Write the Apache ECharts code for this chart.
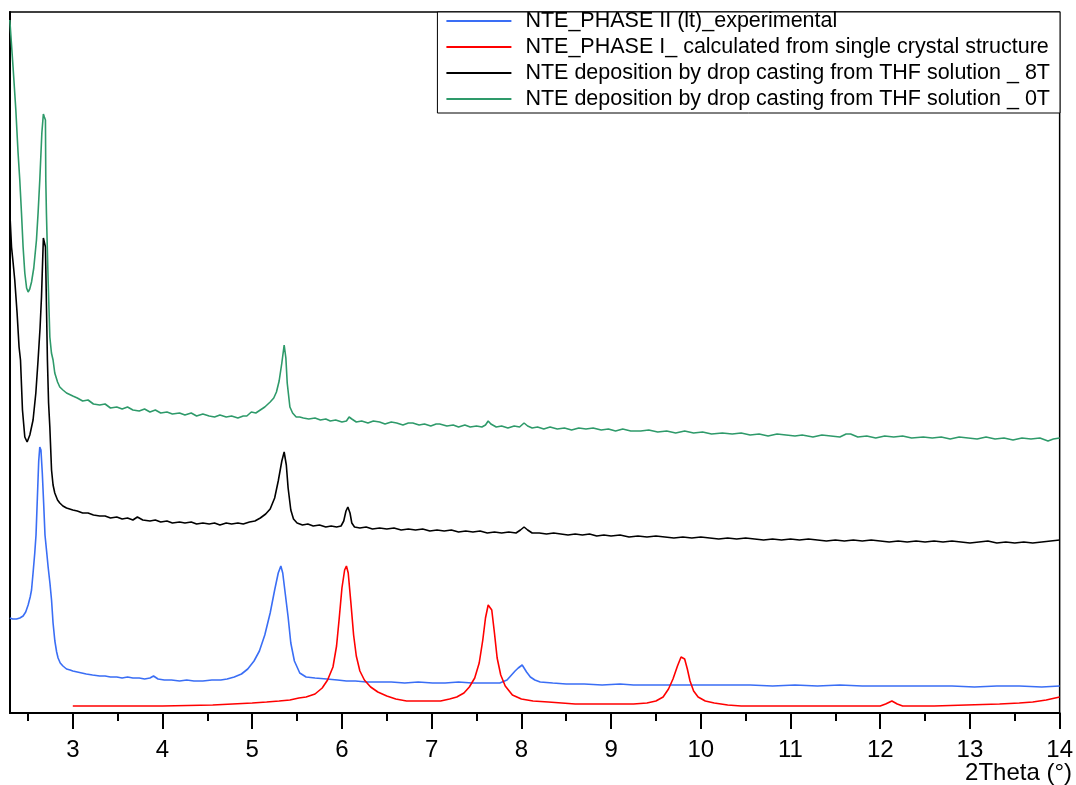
<!DOCTYPE html>
<html>
<head>
<meta charset="utf-8">
<script src="https://cdn.jsdelivr.net/npm/echarts@6/dist/echarts.min.js"></script>
<style>
html,body{margin:0;padding:0;background:#fff;}
#chart{width:1076px;height:785px;}
</style>
</head>
<body>
<div id="chart"></div>
<script>
// ---- data (x = 2Theta in degrees, y = intensity in arbitrary units) ----
const seriesNames = [
  "NTE_PHASE II (lt)_experimental",
  "NTE_PHASE I_ calculated from single crystal structure",
  "NTE deposition by drop casting from THF solution _ 8T",
  "NTE deposition by drop casting from THF solution _ 0T"
];
const majorTicks = [3,4,5,6,7,8,9,10,11,12,13,14];
const minorTicks = [2.5,3.5,4.5,5.5,6.5,7.5,8.5,9.5,10.5,11.5,12.5,13.5];
const axisTitle = "2Theta (°)";

const phaseII = [[2.298,95],[2.33,94],[2.372,94],[2.41,95],[2.446,97],[2.475,101],[2.502,108],[2.525,116],[2.54,123],[2.557,140],[2.576,160],[2.59,178],[2.605,215],[2.62,252],[2.632,266],[2.645,263],[2.66,240],[2.675,210],[2.69,178],[2.71,160],[2.725,146],[2.745,130],[2.763,113],[2.78,90],[2.80,72],[2.82,61],[2.836,55],[2.86,50],[2.89,47],[2.93,44],[2.97,43],[3.00,42],[3.05,41],[3.10,40],[3.15,39],[3.22,38],[3.30,37],[3.36,37],[3.42,36],[3.49,36],[3.55,35],[3.61,36],[3.67,35],[3.74,35],[3.80,34],[3.86,35],[3.90,37],[3.95,34],[4.02,33],[4.10,33],[4.19,32],[4.27,33],[4.35,32],[4.45,32],[4.55,33],[4.65,33],[4.72,34],[4.80,36],[4.88,39],[4.95,44],[5.02,52],[5.08,62],[5.14,78],[5.20,100],[5.25,123],[5.29,140],[5.319,147],[5.34,140],[5.37,118],[5.40,96],[5.43,70],[5.47,52],[5.53,40],[5.60,36],[5.70,35],[5.83,34],[5.95,33],[6.05,32],[6.15,32],[6.27,31],[6.40,31],[6.55,31],[6.70,30],[6.85,31],[7.01,30],[7.15,30],[7.30,31],[7.45,30],[7.60,30],[7.76,30],[7.84,33],[7.87,36],[7.93,42],[7.965,45],[8.009,48],[8.03,46],[8.058,41],[8.10,36],[8.15,33],[8.21,31],[8.35,30],[8.50,29],[8.70,29],[8.90,28],[9.10,29],[9.25,28],[9.45,28],[9.65,28],[9.85,28],[10.05,28],[10.3,28],[10.55,28],[10.8,27],[11.05,28],[11.3,27],[11.55,28],[11.8,27],[12.05,27],[12.3,27],[12.55,27],[12.8,27],[13.05,26],[13.3,27],[13.55,27],[13.8,26],[14.0,27]];

const phaseICalc = [[3.0,7],[3.5,7],[4.0,7],[4.56,8],[4.78,9],[5.0,10],[5.16,11],[5.3,12],[5.42,13],[5.52,15],[5.60,16],[5.70,19],[5.78,25],[5.84,33],[5.90,46],[5.94,67],[5.97,95],[6.00,125],[6.03,143],[6.05,147],[6.07,140],[6.10,110],[6.13,78],[6.16,57],[6.20,42],[6.25,33],[6.32,26],[6.40,21],[6.50,17],[6.60,14],[6.72,12],[6.9,12],[7.10,12],[7.20,14],[7.28,16],[7.36,20],[7.42,26],[7.48,35],[7.53,50],[7.57,73],[7.60,95],[7.63,108],[7.65,110],[7.67,103],[7.70,80],[7.73,55],[7.77,38],[7.82,27],[7.90,18],[8.00,14],[8.13,12],[8.30,11],[8.45,10],[8.6,9],[8.88,9],[9.10,9],[9.25,9],[9.40,10],[9.50,12],[9.58,16],[9.64,24],[9.69,34],[9.74,47],[9.78,56],[9.80,57],[9.82,54],[9.85,44],[9.88,32],[9.92,22],[9.97,16],[10.05,12],[10.15,10],[10.3,8],[10.45,7],[11.0,7],[11.5,7],[12.0,7],[12.06,9],[12.13,12],[12.19,9],[12.25,7],[12.6,7],[12.96,8],[13.33,9],[13.55,10],[13.70,11],[13.85,13],[13.95,15],[14.0,16]];

const film8T = [[2.298,501],[2.317,466],[2.335,450],[2.353,433],[2.379,400],[2.401,366],[2.417,353],[2.439,303],[2.465,276],[2.491,271],[2.505,272],[2.521,278],[2.557,293],[2.588,320],[2.613,353],[2.635,385],[2.651,416],[2.672,475],[2.685,473],[2.695,466],[2.717,353],[2.73,310],[2.744,286],[2.763,243],[2.78,228],[2.799,220],[2.83,213],[2.855,210],[2.89,207],[2.93,205],[3.00,203],[3.05,202],[3.11,200],[3.17,200],[3.23,198],[3.30,197],[3.36,197],[3.42,195],[3.49,196],[3.55,194],[3.61,195],[3.67,193],[3.72,196],[3.78,193],[3.86,192],[3.92,193],[3.98,191],[4.05,192],[4.11,190],[4.19,191],[4.25,190],[4.32,191],[4.38,189],[4.45,190],[4.52,189],[4.58,190],[4.64,188],[4.71,190],[4.77,189],[4.84,190],[4.90,189],[4.97,191],[5.03,192],[5.09,195],[5.15,199],[5.20,204],[5.25,215],[5.29,232],[5.33,252],[5.356,261],[5.38,248],[5.40,225],[5.43,203],[5.46,194],[5.50,190],[5.56,188],[5.62,189],[5.68,187],[5.75,188],[5.82,186],[5.88,187],[5.94,186],[5.99,187],[6.02,192],[6.045,202],[6.066,206],[6.09,200],[6.11,190],[6.14,186],[6.20,185],[6.27,186],[6.34,184],[6.42,185],[6.50,184],[6.58,185],[6.66,183],[6.74,184],[6.82,183],[6.90,184],[6.98,182],[7.06,183],[7.14,182],[7.22,183],[7.30,181],[7.38,182],[7.46,181],[7.54,182],[7.62,180],[7.70,181],[7.78,180],[7.86,181],[7.94,180],[7.99,183],[8.03,186],[8.07,183],[8.12,180],[8.20,180],[8.28,179],[8.36,180],[8.44,179],[8.52,178],[8.60,179],[8.68,178],[8.76,179],[8.84,177],[8.92,178],[9.00,177],[9.10,178],[9.20,176],[9.30,177],[9.40,176],[9.50,177],[9.60,176],[9.70,175],[9.80,176],[9.90,175],[10.00,176],[10.10,175],[10.20,174],[10.30,175],[10.40,174],[10.50,175],[10.60,174],[10.70,173],[10.80,174],[10.90,173],[11.00,174],[11.10,173],[11.20,174],[11.30,173],[11.40,172],[11.50,173],[11.60,172],[11.70,173],[11.80,172],[11.90,173],[12.00,172],[12.10,171],[12.20,172],[12.30,171],[12.40,172],[12.50,171],[12.60,172],[12.70,171],[12.80,172],[12.90,171],[13.00,170],[13.10,171],[13.20,172],[13.30,170],[13.40,171],[13.50,170],[13.60,171],[13.70,170],[13.80,171],[13.90,172],[14.00,173]];

const film0T = [[2.298,693],[2.334,646],[2.365,603],[2.39,560],[2.409,533],[2.428,500],[2.446,466],[2.465,440],[2.485,425],[2.502,421],[2.52,424],[2.54,431],[2.565,445],[2.595,473],[2.613,500],[2.632,533],[2.655,580],[2.672,599],[2.683,596],[2.695,593],[2.699,533],[2.706,500],[2.725,433],[2.744,376],[2.762,360],[2.78,353],[2.799,340],[2.83,331],[2.855,326],[2.89,323],[2.93,320],[3.00,317],[3.05,315],[3.11,312],[3.17,313],[3.23,309],[3.30,308],[3.36,309],[3.42,305],[3.49,306],[3.55,304],[3.61,306],[3.67,303],[3.74,302],[3.80,304],[3.86,301],[3.92,303],[3.98,300],[4.05,301],[4.11,299],[4.19,300],[4.25,298],[4.32,300],[4.38,297],[4.45,299],[4.52,297],[4.58,296],[4.64,298],[4.71,296],[4.77,297],[4.84,295],[4.90,297],[4.94,297],[4.99,301],[5.04,300],[5.09,303],[5.14,306],[5.20,311],[5.24,315],[5.27,321],[5.30,332],[5.33,350],[5.356,368],[5.375,355],[5.39,330],[5.42,306],[5.45,300],[5.49,296],[5.53,296],[5.57,295],[5.63,294],[5.70,295],[5.76,293],[5.82,294],[5.87,292],[5.93,293],[6.00,291],[6.05,292],[6.08,296],[6.11,294],[6.16,291],[6.22,292],[6.29,290],[6.35,292],[6.42,291],[6.48,289],[6.55,291],[6.61,290],[6.68,288],[6.74,290],[6.79,290],[6.86,288],[6.92,289],[6.99,287],[7.05,289],[7.09,289],[7.17,287],[7.24,288],[7.30,286],[7.37,288],[7.43,286],[7.50,287],[7.56,286],[7.60,288],[7.63,292],[7.66,289],[7.72,286],[7.78,287],[7.85,285],[7.92,287],[7.98,286],[8.03,290],[8.07,287],[8.12,285],[8.18,286],[8.25,284],[8.32,286],[8.40,284],[8.48,285],[8.56,283],[8.64,285],[8.72,284],[8.80,285],[8.89,283],[8.97,284],[9.05,282],[9.13,284],[9.22,282],[9.33,282],[9.42,283],[9.52,281],[9.62,282],[9.72,280],[9.82,282],[9.92,280],[10.02,281],[10.12,279],[10.24,280],[10.35,279],[10.45,280],[10.55,278],[10.65,279],[10.75,277],[10.85,279],[10.95,278],[11.05,277],[11.13,278],[11.25,276],[11.35,278],[11.45,277],[11.55,276],[11.62,279],[11.67,279],[11.75,276],[11.85,277],[11.95,275],[12.05,277],[12.15,276],[12.25,277],[12.35,275],[12.48,276],[12.58,275],[12.68,276],[12.78,274],[12.88,276],[12.98,275],[13.08,274],[13.18,276],[13.28,274],[13.38,275],[13.48,273],[13.58,275],[13.68,274],[13.78,275],[13.87,272],[13.93,274],[14.0,275]];

const seriesData = [phaseII, phaseICalc, film8T, film0T];
const seriesColors = ['#3a6ef5', '#ff0000', '#000000', '#2e9a6a'];

// ---- chart ----
const FONT = "'Liberation Sans', Arial, sans-serif";
const chart = echarts.init(document.getElementById('chart'), null, {renderer: 'canvas'});
chart.setOption({
  animation: false,
  backgroundColor: '#ffffff',
  title: {
    text: axisTitle, right: 4, top: 761, padding: 0,
    textStyle: {fontSize: 24, fontWeight: 'normal', color: '#000', fontFamily: FONT}
  },
  grid: {left: 10, right: 16, top: 12, bottom: 72, show: true, borderColor: '#000', borderWidth: 1.5, backgroundColor: 'transparent'},
  legend: {
    orient: 'vertical', right: 16, top: 12,
    padding: [-2, 10, 3, 9], itemGap: 4,
    itemWidth: 65, itemHeight: 2, icon: 'rect',
    borderColor: '#000', borderWidth: 1, backgroundColor: '#fff', borderRadius: 0,
    textStyle: {fontSize: 21.5, color: '#000', fontFamily: FONT, padding: [0, 0, 0, 9]},
    data: seriesNames
  },
  xAxis: [{
    type: 'value', min: 2.3, max: 14, position: 'bottom', offset: 0,
    axisLine: {show: true, onZero: false, lineStyle: {color: '#000', width: 2}},
    axisTick: {show: true, inside: false, length: 16, customValues: majorTicks, lineStyle: {color: '#000', width: 2}},
    axisLabel: {show: true, customValues: majorTicks, fontSize: 24, color: '#000', margin: 25, fontFamily: FONT},
    splitLine: {show: false}
  }, {
    type: 'value', min: 2.3, max: 14, position: 'bottom', offset: 0,
    axisLine: {show: false},
    axisTick: {show: true, inside: false, length: 8, customValues: minorTicks, lineStyle: {color: '#000', width: 2}},
    axisLabel: {show: false},
    splitLine: {show: false}
  }],
  yAxis: {
    type: 'value', min: 0, max: 701,
    axisLine: {show: true, lineStyle: {color: '#000', width: 2}},
    axisTick: {show: false}, axisLabel: {show: false}, splitLine: {show: false}
  },
  series: seriesNames.map((name, i) => ({
    name: name, type: 'line', xAxisIndex: 0, yAxisIndex: 0,
    data: seriesData[i], symbol: 'none', showSymbol: false,
    itemStyle: {color: seriesColors[i]},
    lineStyle: {color: seriesColors[i], width: 1.6},
    emphasis: {disabled: true}
  }))
});
</script>
</body>
</html>
